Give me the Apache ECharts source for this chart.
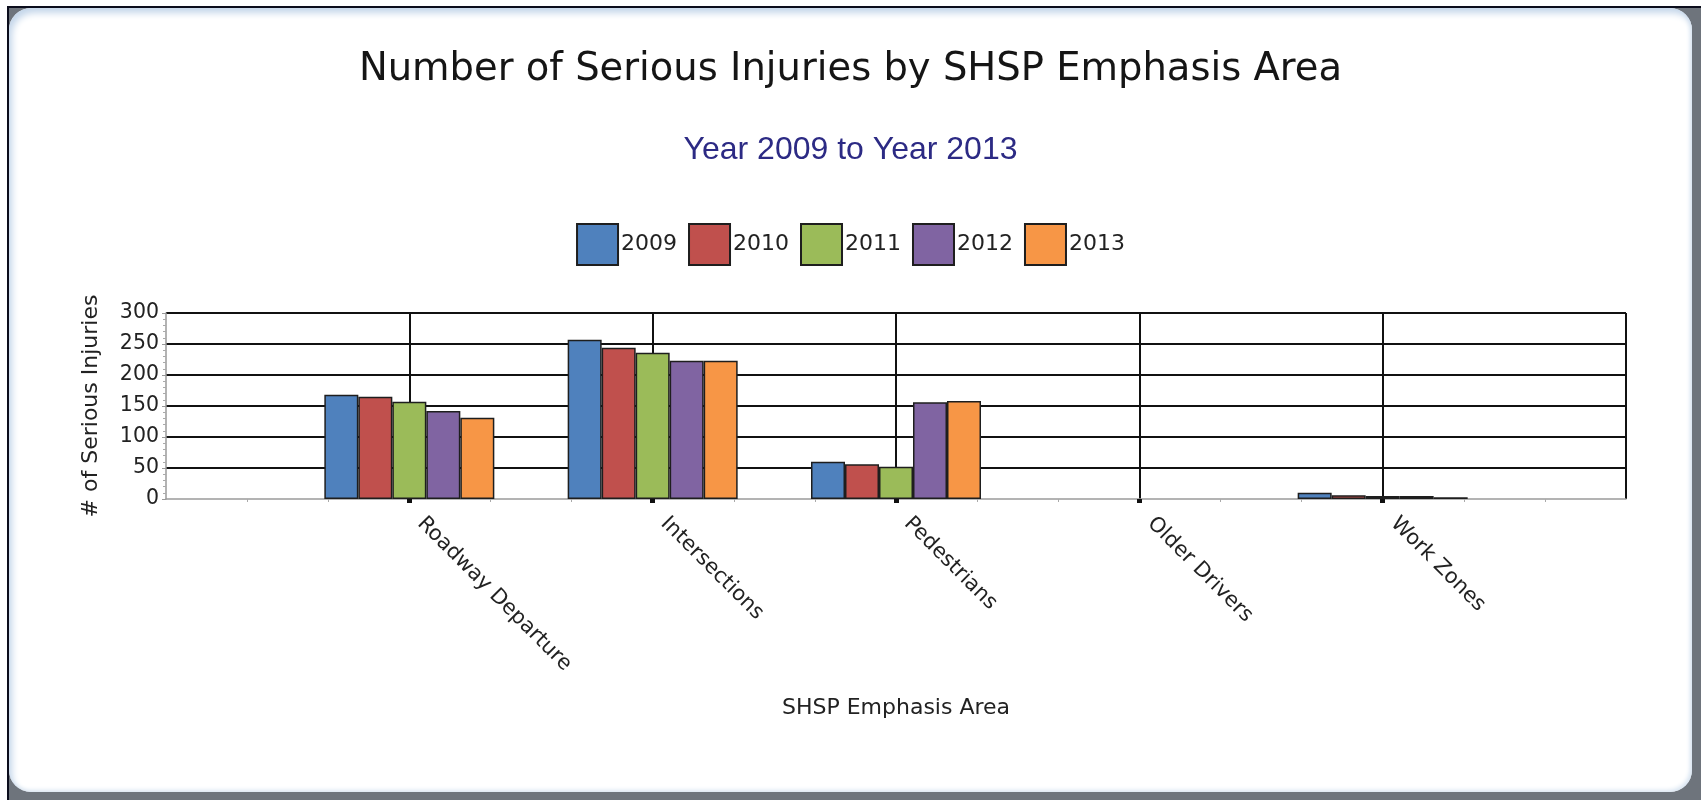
<!DOCTYPE html>
<html>
<head>
<meta charset="utf-8">
<script src="https://cdn.jsdelivr.net/npm/echarts@6/dist/echarts.min.js"></script>
<style>
  html, body { margin: 0; padding: 0; background: #ffffff; }
  #frame { position: absolute; left: 7px; top: 6px; width: 1694px; height: 794px;
           background: #6e747c; border-top: 2px solid #0b0d1c; border-left: 2px solid #0b0d1c; box-sizing: border-box; }
  #panel { position: absolute; left: 0; top: 0; right: 9px; bottom: 8px; background: #ffffff;
           border-radius: 22px; box-shadow: inset 3px 5px 7px #c4d6ea, inset -2px -2px 4px #dbe6f2; }
  #chart { position: absolute; left: 0; top: 0; width: 1701px; height: 800px; }
</style>
</head>
<body>
<div id="frame"><div id="panel"></div></div>
<div id="chart"></div>
<script>
const categories = ['Roadway Departure', 'Intersections', 'Pedestrians', 'Older Drivers', 'Work Zones'];
const years = ['2009', '2010', '2011', '2012', '2013'];
const values2009 = [168, 257, 60, 0, 10];
const values2010 = [165, 244, 56, 0, 6];
const values2011 = [157, 236, 52, 0, 5];
const values2012 = [142, 223, 156, 0, 5];
const values2013 = [131, 223, 158, 0, 3];
const yTicks = [0, 50, 100, 150, 200, 250, 300];
const colors = ['#4F81BD', '#C0504D', '#9BBB59', '#8064A2', '#F79646'];
const seriesValues = [values2009, values2010, values2011, values2012, values2013];
const categoryPositions = categories.map((c, i) => i + 1);

const font = 'DejaVu Sans, Verdana, sans-serif';
const chart = echarts.init(document.getElementById('chart'), null, { renderer: 'canvas' });

const series = years.map((y, si) => ({
  name: y,
  type: 'bar',
  xAxisIndex: 0,
  barWidth: 34,
  barGap: '0%',
  itemStyle: { color: colors[si], borderColor: '#1e1e1e', borderWidth: 1.5 },
  data: seriesValues[si].map((v, i) => (v === 0
    ? { value: [categoryPositions[i], v], itemStyle: { borderWidth: 0 } }
    : { value: [categoryPositions[i], v] }))
}));

chart.setOption({
  animation: false,
  backgroundColor: 'transparent',
  title: [
    { text: 'Number of Serious Injuries by SHSP Emphasis Area', left: 'center', top: 50, padding: 0,
      textStyle: { fontFamily: font, fontSize: 38.5, fontWeight: 'normal', color: '#151515' } },
    { text: 'Year 2009 to Year 2013', left: 'center', top: 134, padding: 0,
      textStyle: { fontFamily: 'Liberation Sans, Arial, sans-serif', fontSize: 32, fontWeight: 'normal', color: '#2c2a84' } }
  ],
  legend: {
    data: years, left: 'center', top: 223, padding: 0,
    itemWidth: 41, itemHeight: 41, itemGap: 11, icon: 'rect',
    textStyle: { fontFamily: font, fontSize: 22, color: '#222', padding: [0, 0, 0, -2] }
  },
  grid: { left: 166, right: 75, top: 313, bottom: 301, containLabel: false },
  xAxis: [{
    type: 'value', min: 0, max: 6, interval: 1,
    name: 'SHSP Emphasis Area', nameLocation: 'middle', nameGap: 198,
    nameTextStyle: { fontFamily: font, fontSize: 22, color: '#222' },
    axisLine: { show: true, lineStyle: { color: '#9a9a9a', width: 1.5 } },
    axisTick: { show: true, customValues: categoryPositions, length: 4, lineStyle: { color: '#111', width: 5 } },
    minorTick: { show: true, splitNumber: 3, length: 3, lineStyle: { color: '#aaa', width: 1 } },
    axisLabel: {
      customValues: categoryPositions, rotate: -45, margin: 10, padding: [0, 0, 0, 16],
      fontFamily: font, fontSize: 21, color: '#222',
      formatter: v => categories[v - 1] || ''
    },
    splitLine: { show: false }
  }, {
    type: 'value', min: 0, max: 6, interval: 1, position: 'top',
    axisLine: { show: false }, axisTick: { show: false }, axisLabel: { show: false },
    splitLine: { show: true, showMinLine: false, showMaxLine: true, lineStyle: { color: '#111', width: 2 } }
  }],
  yAxis: {
    type: 'value', min: 0, max: 300, interval: 50,
    name: '# of Serious Injuries', nameLocation: 'middle', nameGap: 64,
    nameTextStyle: { fontFamily: font, fontSize: 22, color: '#222' },
    axisLine: { show: true, lineStyle: { color: '#9a9a9a', width: 1.5 } },
    axisTick: { show: true, length: 4, lineStyle: { color: '#999' } },
    minorTick: { show: true, splitNumber: 5, length: 3, lineStyle: { color: '#aaa' } },
    axisLabel: { fontFamily: font, fontSize: 20.5, color: '#222', margin: 7,
      formatter: v => (yTicks.includes(v) ? String(v) : '') },
    splitLine: { show: true, showMinLine: false, showMaxLine: true, lineStyle: { color: '#111', width: 2 } }
  },
  series: series
});
</script>
</body>
</html>
